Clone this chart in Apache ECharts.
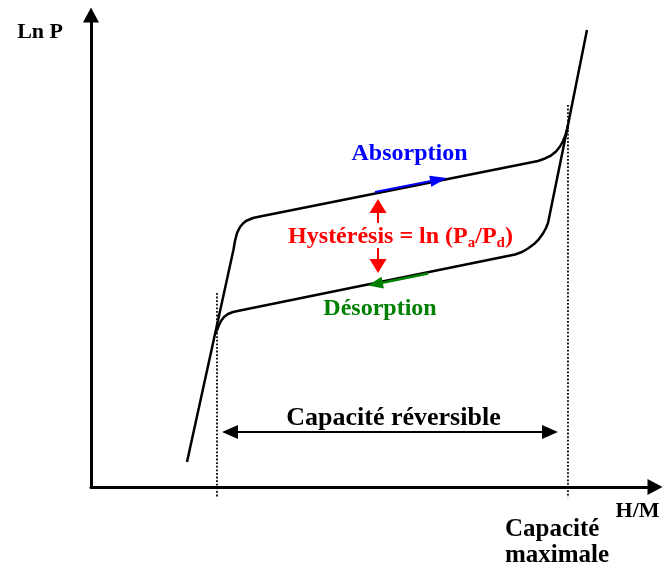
<!DOCTYPE html>
<html><head><meta charset="utf-8">
<script src="https://cdn.jsdelivr.net/npm/echarts@6/dist/echarts.min.js"></script>
<style>html,body{margin:0;padding:0;background:#fff}#c{width:664px;height:570px}</style>
</head><body><div id="c"></div><script>
// ---- Axis titles ----
const yAxisTitle = 'Ln P';
const xAxisTitle = 'H/M';

// ---- Isotherm branches (H/M, Ln P) in schematic units 0..100 ----
const absorptionX = [17.02, 25.25, 25.53, 25.89, 26.42, 26.95, 27.48, 28.72, 29.96, 79.26, 80.50, 81.56, 82.45, 83.16, 83.69, 84.13, 84.40, 84.57, 87.94];
const absorptionY = [5.30, 50.21, 52.12, 53.81, 55.08, 55.83, 56.36, 56.99, 57.31, 69.07, 69.60, 70.23, 71.08, 72.14, 73.31, 74.58, 75.64, 76.69, 96.82];
const desorptionX = [84.57, 81.03, 80.67, 80.14, 79.43, 78.55, 77.48, 76.42, 75.18, 26.42, 25.18, 24.29, 23.58, 23.05, 22.70, 22.43, 22.07];
const desorptionY = [76.69, 55.93, 54.87, 53.71, 52.54, 51.48, 50.53, 49.79, 49.26, 37.39, 37.08, 36.65, 36.02, 35.17, 34.32, 33.47, 32.63];

// ---- Guide lines (dotted verticals) ----
const reversibleStartX = 22.34, reversibleEndX = 84.57;
const guideTopLeft = 41.10, guideTopRight = 80.93, guideBottom = -2.3;

// ---- Arrows: [x tail, y tail, x tip, y tip] ----
const arrowReversible = [23.23, 11.65, 82.80, 11.65];
const arrowHystUp = [50.89, 55.93, 50.89, 61.02];
const arrowHystDown = [50.89, 50.64, 50.89, 45.34];
const arrowAbsorption = [50.35, 62.50, 63.12, 65.47];
const arrowDesorption = [59.75, 45.23, 49.11, 42.69];

// ---- Text annotations ----
const labelTexts = ['Absorption', 'Désorption', 'Hystérésis = ln (P|a|/P|d|)', 'Capacité réversible', 'Capacité\nmaximale', xAxisTitle];
const labelX = [56.47, 51.24, 54.88, 53.63, 73.40, 96.90];
const labelY = [70.60, 37.71, 52.97, 14.60, -11.78, -5.08];

const FONT = 'Liberation Serif';
const zip = (xs, ys) => xs.map((x, i) => [x, ys[i]]);

function arrowRender(headLen, headWid, lineW, color, both) {
  return function (params, api) {
    const a = api.coord([api.value(0), api.value(1)]);
    const b = api.coord([api.value(2), api.value(3)]);
    const dx = b[0] - a[0], dy = b[1] - a[1];
    const len = Math.hypot(dx, dy);
    const ux = dx / len, uy = dy / len, px = -uy, py = ux;
    const head = (tip, s) => ({
      type: 'polygon',
      shape: { points: [tip,
        [tip[0] - s * ux * headLen + px * headWid / 2, tip[1] - s * uy * headLen + py * headWid / 2],
        [tip[0] - s * ux * headLen - px * headWid / 2, tip[1] - s * uy * headLen - py * headWid / 2]] },
      style: { fill: color }
    });
    const start = both ? [a[0] + ux * headLen * 0.8, a[1] + uy * headLen * 0.8] : a;
    const end = [b[0] - ux * headLen * 0.8, b[1] - uy * headLen * 0.8];
    const children = [
      { type: 'line', shape: { x1: start[0], y1: start[1], x2: end[0], y2: end[1] }, style: { stroke: color, lineWidth: lineW } },
      head(b, 1)
    ];
    if (both) children.push(head(a, -1));
    return { type: 'group', children };
  };
}
function arrowSeries(arr, headLen, headWid, lineW, color, both, z) {
  return {
    type: 'custom', coordinateSystem: 'cartesian2d', clip: false, silent: true, z: z || 5,
    data: [arr], encode: { x: [0, 2], y: [1, 3] },
    renderItem: arrowRender(headLen, headWid, lineW, color, both)
  };
}
function textSeries(i, label) {
  return {
    type: 'scatter', clip: false, silent: true, z: 6,
    data: [[labelX[i], labelY[i]]], symbolSize: 1,
    itemStyle: { color: 'rgba(0,0,0,0)', opacity: 1 },
    label: Object.assign({ show: true, position: 'inside', fontFamily: FONT, fontWeight: 'bold', opacity: 1 }, label)
  };
}

const chart = echarts.init(document.getElementById('c'), null, { renderer: 'canvas' });
const axisLine = { show: true, onZero: false, symbol: ['none', 'triangle'], symbolSize: [16, 15], lineStyle: { color: '#000', width: 3 } };
const hystParts = labelTexts[2].split('|');
const dotted = { color: '#000', width: 1.8, type: [1.8, 1.8] };

chart.setOption({
  animation: false,
  backgroundColor: '#fff',
  grid: { left: 91, right: 9, top: 15, bottom: 83, containLabel: false },
  xAxis: {
    type: 'value', min: 0, max: 100, axisLine, axisTick: { show: false }, axisLabel: { show: false }, splitLine: { show: false }
  },
  yAxis: {
    type: 'value', min: 0, max: 100, axisLine, axisTick: { show: false }, axisLabel: { show: false }, splitLine: { show: false },
    name: yAxisTitle, nameLocation: 'end', nameGap: -17,
    nameTextStyle: { fontFamily: FONT, fontWeight: 'bold', fontSize: 22, color: '#000', align: 'right', verticalAlign: 'middle', padding: [0, 28, 0, 0] }
  },
  series: [
    { type: 'line', name: 'Absorption', data: zip(absorptionX, absorptionY), showSymbol: false, symbol: 'none', clip: false, lineStyle: { color: '#000', width: 2.5 }, z: 3 },
    { type: 'line', name: 'Désorption', data: zip(desorptionX, desorptionY), showSymbol: false, symbol: 'none', clip: false, lineStyle: { color: '#000', width: 2.5 }, z: 3 },
    { type: 'line', data: [[reversibleStartX, guideTopLeft], [reversibleStartX, guideBottom]], symbol: 'none', clip: false, lineStyle: dotted, z: 2 },
    { type: 'line', data: [[reversibleEndX, guideTopRight], [reversibleEndX, guideBottom]], symbol: 'none', clip: false, lineStyle: dotted, z: 2 },
    arrowSeries(arrowReversible, 16, 14, 2, '#000', true),
    arrowSeries(arrowHystUp, 14, 17, 2, '#ff0000', false),
    arrowSeries(arrowHystDown, 14, 17, 2, '#ff0000', false),
    arrowSeries(arrowAbsorption, 17, 11, 2, '#0000ff', false),
    arrowSeries(arrowDesorption, 15, 12, 2.5, '#008000', false),
    textSeries(0, { formatter: labelTexts[0], fontSize: 24, color: '#0000ff' }),
    textSeries(1, { formatter: labelTexts[1], fontSize: 24, color: '#008000' }),
    textSeries(2, {
      formatter: '{m|' + hystParts[0] + '}{s|' + hystParts[1] + '}{m|' + hystParts[2] + '}{s|' + hystParts[3] + '}{m|' + hystParts[4] + '}',
      rich: {
        m: { fontFamily: FONT, fontWeight: 'bold', fontSize: 24, color: '#ff0000' },
        s: { fontFamily: FONT, fontWeight: 'bold', fontSize: 15, color: '#ff0000', padding: [12, 0, 0, 0] }
      }
    }),
    textSeries(3, { formatter: labelTexts[3], fontSize: 26, color: '#000' }),
    textSeries(4, { formatter: labelTexts[4], fontSize: 25, color: '#000', align: 'left', lineHeight: 26 }),
    textSeries(5, { formatter: labelTexts[5], fontSize: 22, color: '#000' })
  ]
});
</script></body></html>
